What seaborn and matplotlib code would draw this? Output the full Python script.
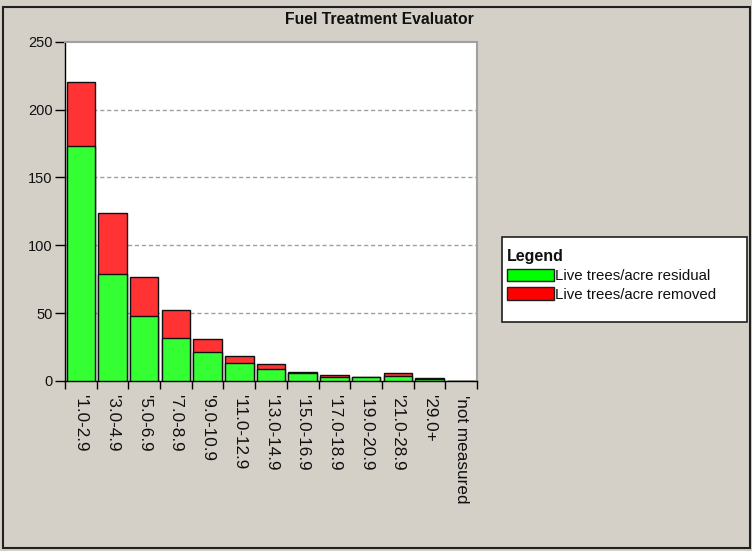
import matplotlib
matplotlib.use("Agg")
import matplotlib.pyplot as plt
import matplotlib.patches as mpatches
import seaborn as sns
import pandas as pd
import numpy as np

categories = ["'1.0-2.9", "'3.0-4.9", "'5.0-6.9", "'7.0-8.9", "'9.0-10.9", "'11.0-12.9",
              "'13.0-14.9", "'15.0-16.9", "'17.0-18.9", "'19.0-20.9", "'21.0-28.9",
              "'29.0+", "'not measured"]
residual = [173.5, 79, 48, 32, 21, 13.2, 9.1, 5.8, 3.0, 3.3, 3.9, 1.2, 0]
removed = [47, 45, 28.7, 20, 9.7, 5.4, 3.3, 1.1, 1.3, 0, 1.7, 0.9, 0]
series_names = ["Live trees/acre residual", "Live trees/acre removed"]
title = "Fuel Treatment Evaluator"
legend_title = "Legend"
yticks = [0, 50, 100, 150, 200, 250]

df = pd.DataFrame({"cat": categories, "residual": residual, "removed": removed})
df["total"] = df["residual"] + df["removed"]

sns.set_style("white")
plt.rcParams["font.family"] = ["Liberation Sans", "DejaVu Sans"]

BG = "#d4d0c8"
GREEN = "#33ff33"
RED = "#ff3333"

fig = plt.figure(figsize=(7.52, 5.51), dpi=100, facecolor=BG)
ax = fig.add_axes([65 / 752, 1 - 381 / 551, (477 - 65) / 752, (381 - 41.7) / 551])
ax.set_facecolor("white")

sns.barplot(data=df, x="cat", y="total", color=RED, saturation=1, width=0.9,
            edgecolor="#101010", linewidth=1, ax=ax, zorder=3)
sns.barplot(data=df, x="cat", y="residual", color=GREEN, saturation=1, width=0.9,
            edgecolor="#101010", linewidth=1, ax=ax, zorder=4)

ax.set_xlim(-0.5, len(categories) - 0.5)
ax.set_ylim(0, 250)
ax.set_yticks(yticks)
ax.set_xlabel("")
ax.set_ylabel("")

# gridlines
for v in yticks[1:-1]:
    ax.axhline(v, color="#a0a0a0", lw=1, ls=(0, (3, 2)), zorder=1)

# ticks: boundaries as minor ticks, labels centred
ax.set_xticks(np.arange(len(categories)))
ax.set_xticklabels(categories, rotation=-90, ha="center", va="top", fontsize=12.3)
ax.set_xticks(np.arange(-0.5, len(categories)), minor=True)
ax.tick_params(axis="x", which="major", length=0, pad=10)
ax.tick_params(axis="x", which="minor", length=6, width=1, color="black", direction="out", bottom=True)
ax.tick_params(axis="y", length=7, width=1, color="black", direction="out", left=True,
               labelsize=10.5, pad=2)
for lab in ax.get_xticklabels() + ax.get_yticklabels():
    lab.set_color("#101010")

for s in ["left", "bottom"]:
    ax.spines[s].set_color("black")
    ax.spines[s].set_linewidth(1)
for s in ["top", "right"]:
    ax.spines[s].set_color("#a0a0a0")
    ax.spines[s].set_linewidth(1.5)

# title
fig.text(379 / 752, 1 - 19 / 551, title, ha="center", va="center",
         fontsize=11.3, fontweight="bold", color="#101010")

# legend box
box = mpatches.Rectangle((502 / 752, 1 - 322 / 551), (747 - 502) / 752, (322 - 237) / 551,
                         transform=fig.transFigure, facecolor="white", edgecolor="#202020",
                         lw=1.2, zorder=5)
fig.patches.append(box)
fig.text(507 / 752, 1 - 256 / 551, legend_title, ha="left", va="center",
         fontsize=11.5, fontweight="bold", color="#101010", zorder=6)
handles = [mpatches.Patch(facecolor="#00ff00", edgecolor="#202020", lw=1),
           mpatches.Patch(facecolor="#ff0000", edgecolor="#202020", lw=1)]
leg = fig.legend(handles, series_names, loc="upper left",
                 bbox_to_anchor=(507 / 752, 1 - 269 / 551), frameon=False,
                 fontsize=10.8, handlelength=3.1, handleheight=0.9,
                 handletextpad=0.1, labelspacing=0.25, borderpad=0, borderaxespad=0)
leg.set_zorder(6)
for t in leg.get_texts():
    t.set_color("#101010")

# outer frame
frame = mpatches.Rectangle((3 / 752, 1 - 548 / 551), 747 / 752, 541 / 551,
                           transform=fig.transFigure, fill=False, edgecolor="#202020", lw=1.5)
fig.patches.append(frame)

fig.savefig("out.png", dpi=100, facecolor=BG)
